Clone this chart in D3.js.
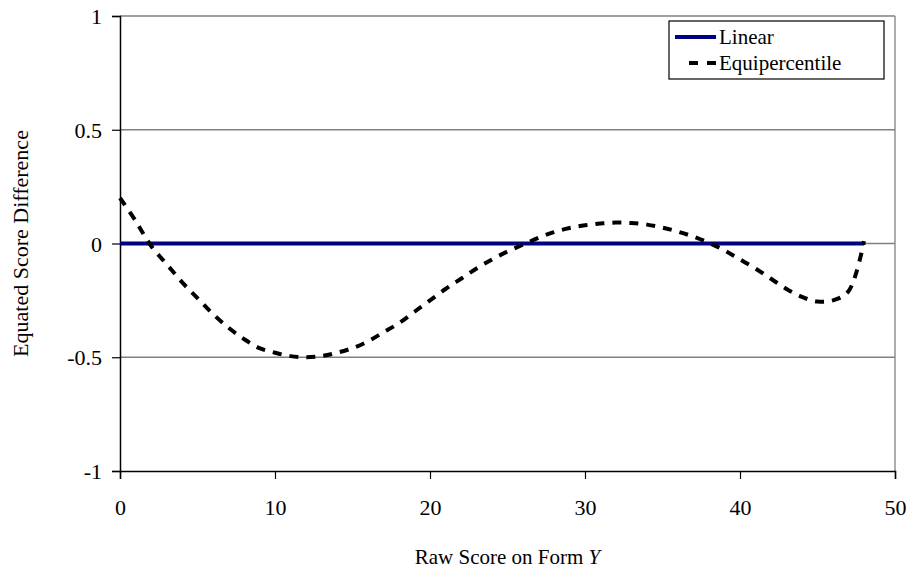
<!DOCTYPE html>
<html>
<head>
<meta charset="utf-8">
<script src="https://cdn.jsdelivr.net/npm/d3@7"></script>
<style>
  body { margin: 0; background: #fff; }
  text { font-family: "Liberation Serif", "Times New Roman", serif; fill: #000; }
</style>
</head>
<body>
<div id="chart"></div>
<script>
var scores = d3.range(0, 49)

var linearDiff = scores.map(function () { return 0 })

var equiDiff = [0.20, 0.10, -0.01, -0.09, -0.17, -0.24, -0.31, -0.37, -0.42, -0.46,
                -0.48, -0.495, -0.50, -0.495, -0.48, -0.46, -0.43, -0.39, -0.35, -0.30,
                -0.25, -0.20, -0.155, -0.11, -0.07, -0.035, -0.005, 0.025, 0.05, 0.068,
                0.08, 0.088, 0.092, 0.09, 0.083, 0.07, 0.052, 0.03, 0.003, -0.03,
                -0.07, -0.11, -0.155, -0.20, -0.235, -0.255, -0.25, -0.21, 0.01]

var xTicks = [0, 10, 20, 30, 40, 50]
var yTicks = [-1, -0.5, 0, 0.5, 1]
var seriesNames = ["Linear", "Equipercentile"]

var W = 911, H = 571
var margin = {top: 16, right: 16, bottom: 100, left: 120},
    width = W - margin.left - margin.right,
    height = H - margin.top - margin.bottom;

var svg = d3.select("#chart").append("svg")
    .attr("width", W).attr("height", H)
    .attr("font-family", "Liberation Serif")

var g = svg.append("g")
    .attr("transform", "translate(" + margin.left + "," + margin.top + ")")

var x = d3.scaleLinear().domain([0, 50]).range([0, width])
var y = d3.scaleLinear().domain([-1, 1]).range([height, 0])

// gridlines
g.selectAll(".grid")
    .data(yTicks.filter(function (d) { return d > -1 && d < 1 }))
    .enter().append("line")
    .attr("x1", 0).attr("x2", width)
    .attr("y1", function (d) { return y(d) }).attr("y2", function (d) { return y(d) })
    .attr("stroke", "#808080").attr("stroke-width", 1.3)

// top and right border
g.append("line").attr("x1", 0).attr("x2", width).attr("y1", 0).attr("y2", 0)
    .attr("stroke", "#808080").attr("stroke-width", 1.3)
g.append("line").attr("x1", width).attr("x2", width).attr("y1", 0).attr("y2", height)
    .attr("stroke", "#808080").attr("stroke-width", 1.3)

// axes
var xAxis = g.append("g")
    .attr("transform", "translate(0," + height + ")")
    .call(d3.axisBottom(x).tickValues(xTicks).tickSize(8).tickPadding(20).tickFormat(d3.format("d")))
var yAxis = g.append("g")
    .call(d3.axisLeft(y).tickValues(yTicks).tickSize(8).tickPadding(10).tickFormat(function (d) { return d }))

;[xAxis, yAxis].forEach(function (a) {
  a.attr("font-family", "Liberation Serif").attr("font-size", 22)
  a.select(".domain").attr("stroke", "#000").attr("stroke-width", 1.5)
  a.selectAll(".tick line").attr("stroke", "#000").attr("stroke-width", 1.2)
  a.selectAll("text").attr("fill", "#000")
})
yAxis.selectAll("text").attr("dy", "0.35em")

var line = d3.line()
    .x(function (d, i) { return x(scores[i]) })
    .y(function (d) { return y(d) })
    .curve(d3.curveCatmullRom.alpha(0.5))

g.append("path").datum(linearDiff)
    .attr("d", line)
    .attr("fill", "none").attr("stroke", "#000080").attr("stroke-width", 4)

g.append("path").datum(equiDiff)
    .attr("d", line)
    .attr("fill", "none").attr("stroke", "#000").attr("stroke-width", 4)
    .attr("stroke-dasharray", "9,8")

// axis titles
svg.append("text")
    .attr("x", margin.left + width / 2).attr("y", 564)
    .attr("text-anchor", "middle").style("font-size", "21px")
    .html('Raw Score on Form <tspan font-style="italic">Y</tspan>')

svg.append("text")
    .attr("transform", "translate(28," + (margin.top + height / 2) + ") rotate(-90)")
    .attr("text-anchor", "middle").style("font-size", "22px")
    .text("Equated Score Difference")

// legend
var lg = svg.append("g").attr("transform", "translate(669,21)")
lg.append("rect").attr("width", 215).attr("height", 58)
    .attr("fill", "#fff").attr("stroke", "#000").attr("stroke-width", 1.2)
var rows = lg.selectAll(".row").data(seriesNames).enter().append("g")
    .attr("transform", function (d, i) { return "translate(0," + (16 + i * 26) + ")" })
rows.append("line")
    .attr("x1", function (d, i) { return i === 0 ? 6 : 20 })
    .attr("x2", 47)
    .attr("stroke", function (d, i) { return i === 0 ? "#000080" : "#000" })
    .attr("stroke-width", 4)
    .attr("stroke-dasharray", function (d, i) { return i === 0 ? null : "9,9" })
rows.append("text").attr("x", 50).attr("dy", "0.35em")
    .style("font-size", "21px").text(function (d) { return d })
</script>
</body>
</html>
